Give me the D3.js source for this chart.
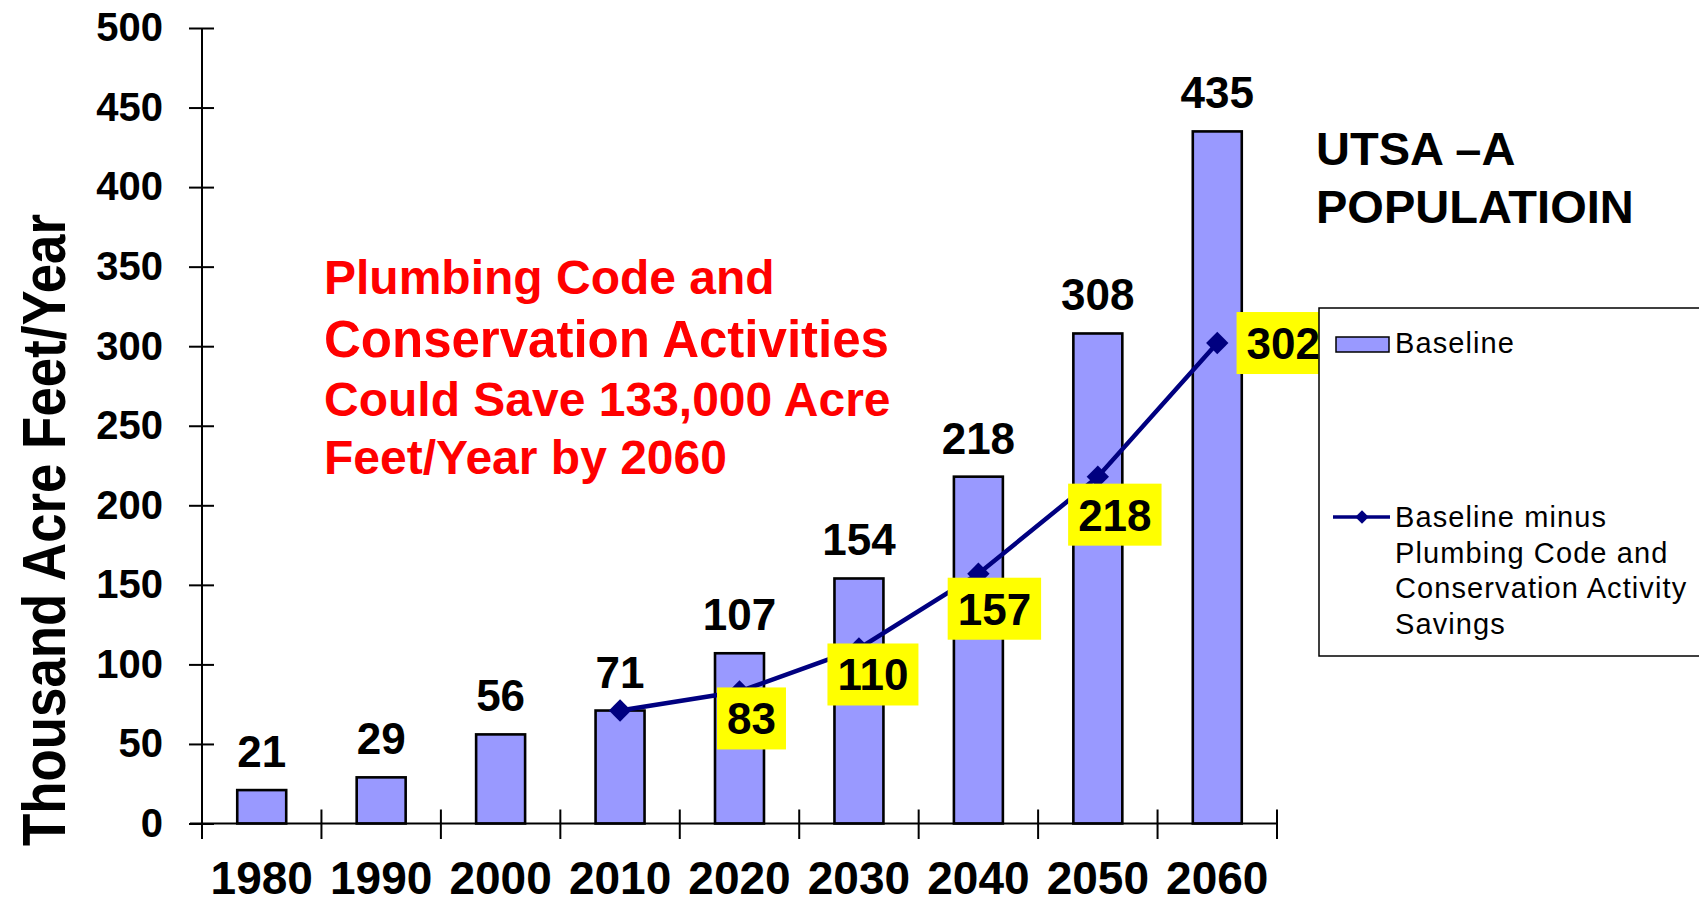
<!DOCTYPE html>
<html>
<head>
<meta charset="utf-8">
<script src="https://cdn.jsdelivr.net/npm/d3@7"></script>
<style>
  html, body { margin: 0; padding: 0; background: #fff; }
  svg { display: block; font-family: "Liberation Sans", Arial, Helvetica, sans-serif; }
</style>
</head>
<body>
<svg id="chart" width="1699" height="904"></svg>
<script>
// Decades on the category axis
const years = ['1980', '1990', '2000', '2010', '2020', '2030', '2040', '2050', '2060'];
// Baseline demand, thousand acre-feet per year
const baseline = [21, 29, 56, 71, 107, 154, 218, 308, 435];
// Demand after plumbing code and conservation savings
const savingsYears = ['2010', '2020', '2030', '2040', '2050', '2060'];
const afterSavings = [71, 83, 110, 157, 218, 302];
// Which points of the savings line carry a yellow callout
const calloutShown = [false, true, true, true, true, true];
// Callout centre offset from its point (px)
const calloutOffsets = [null, [12, 27], [14, 26], [16, 35], [17, 38], [66, 0]];
// Value axis ticks
const yTicks = [0, 50, 100, 150, 200, 250, 300, 350, 400, 450, 500];

const titleLines = ['UTSA \u2013A', 'POPULATIOIN'];
const noteLines = ['Plumbing Code and', 'Conservation Activities', 'Could Save 133,000 Acre', 'Feet/Year by 2060'];
const legendBars = 'Baseline';
const legendLine = ['Baseline minus', 'Plumbing Code and', 'Conservation Activity', 'Savings'];
const yTitle = 'Thousand Acre Feet/Year';

(function draw() {
  const svg = d3.select('#chart');
  const plotLeft = 202, plotRight = 1277, plotTop = 28, plotBottom = 823.5;

  const x = d3.scaleBand().domain(years).range([plotLeft, plotRight]).paddingInner(0.59).paddingOuter(0.295);
  const y = d3.scaleLinear().domain([0, 500]).range([plotBottom, plotTop]);
  const cx = d => x(d) + x.bandwidth() / 2;

  // Bars
  svg.append('g').selectAll('rect').data(years).join('rect')
    .attr('x', d => x(d))
    .attr('width', x.bandwidth())
    .attr('y', (d, i) => y(baseline[i]))
    .attr('height', (d, i) => y(0) - y(baseline[i]))
    .attr('fill', '#9999FF')
    .attr('stroke', '#000')
    .attr('stroke-width', 2.6);

  // Bar value labels
  svg.append('g').selectAll('text').data(years).join('text')
    .attr('x', d => cx(d))
    .attr('y', (d, i) => y(baseline[i]) - 23)
    .attr('text-anchor', 'middle')
    .attr('font-size', 44)
    .attr('font-weight', 'bold')
    .attr('fill', '#000')
    .text((d, i) => baseline[i]);

  // Y axis
  const yAxis = svg.append('g').attr('transform', `translate(${plotLeft},0)`)
    .call(d3.axisLeft(y).tickValues(yTicks).tickSize(13).tickPadding(26));
  yAxis.select('.domain').remove();
  yAxis.selectAll('.tick line').attr('stroke', '#000').attr('stroke-width', 2);
  yAxis.selectAll('.tick').append('line').attr('x1', 0).attr('x2', 12).attr('stroke', '#000').attr('stroke-width', 2);
  yAxis.selectAll('.tick text').attr('font-size', 40).attr('font-weight', 'bold').attr('fill', '#000')
    .attr('font-family', '"Liberation Sans", Arial, sans-serif');
  svg.append('line').attr('x1', plotLeft).attr('x2', plotLeft).attr('y1', y(500)).attr('y2', plotBottom + 15.5)
    .attr('stroke', '#000').attr('stroke-width', 2);

  // X axis
  svg.append('line').attr('x1', plotLeft - 12).attr('x2', plotRight).attr('y1', plotBottom).attr('y2', plotBottom)
    .attr('stroke', '#000').attr('stroke-width', 2);
  const bounds = d3.range(years.length + 1).map(i => x.range()[0] + i * x.step());
  svg.append('g').selectAll('line').data(bounds.slice(1)).join('line')
    .attr('x1', d => d).attr('x2', d => d)
    .attr('y1', plotBottom - 14).attr('y2', plotBottom + 15.5)
    .attr('stroke', '#000').attr('stroke-width', 2);
  const xAxis = svg.append('g').attr('transform', `translate(0,${plotBottom})`)
    .call(d3.axisBottom(x).tickSize(0).tickPadding(37.5));
  xAxis.select('.domain').remove();
  xAxis.selectAll('.tick text').attr('font-size', 46).attr('font-weight', 'bold').attr('fill', '#000')
    .attr('font-family', '"Liberation Sans", Arial, sans-serif');

  // Y axis title
  svg.append('text')
    .attr('transform', 'translate(65,530) rotate(-90)')
    .attr('text-anchor', 'middle')
    .attr('font-size', 62)
    .attr('font-weight', 'bold')
    .attr('textLength', 632)
    .attr('lengthAdjust', 'spacingAndGlyphs')
    .text(yTitle);

  // Savings line
  const pts = savingsYears.map((d, i) => [cx(d), y(afterSavings[i])]);
  svg.append('path')
    .attr('d', d3.line()(pts))
    .attr('fill', 'none')
    .attr('stroke', '#000080')
    .attr('stroke-width', 4.5);
  svg.append('g').selectAll('path').data(pts).join('path')
    .attr('transform', d => `translate(${d[0]},${d[1]}) rotate(45)`)
    .attr('d', d3.symbol(d3.symbolSquare, 250))
    .attr('fill', '#000080');

  // Yellow callouts
  const callouts = svg.append('g');
  pts.forEach((p, i) => {
    if (!calloutShown[i]) return;
    const [dx, dy] = calloutOffsets[i];
    const g = callouts.append('g').attr('transform', `translate(${p[0] + dx},${p[1] + dy})`);
    const rect = g.append('rect').attr('fill', '#FFFF00');
    const t = g.append('text')
      .attr('text-anchor', 'middle')
      .attr('y', 16)
      .attr('font-size', 44)
      .attr('font-weight', 'bold')
      .attr('fill', '#000')
      .text(afterSavings[i]);
    const w = t.node().getComputedTextLength() + 20;
    rect.attr('x', -w / 2).attr('y', -31).attr('width', w).attr('height', 62);
  });

  // Legend
  const lg = svg.append('g');
  lg.append('rect').attr('x', 1319).attr('y', 308).attr('width', 420).attr('height', 348)
    .attr('fill', '#fff').attr('stroke', '#000').attr('stroke-width', 1.5);
  lg.append('rect').attr('x', 1336).attr('y', 337).attr('width', 53).attr('height', 15)
    .attr('fill', '#9999FF').attr('stroke', '#000').attr('stroke-width', 1.5);
  lg.append('text').attr('x', 1395).attr('y', 353).attr('font-size', 29).attr('letter-spacing', 1.1)
    .text(legendBars);
  lg.append('line').attr('x1', 1333).attr('x2', 1390).attr('y1', 517).attr('y2', 517)
    .attr('stroke', '#000080').attr('stroke-width', 3.5);
  lg.append('path').attr('transform', 'translate(1362,517) rotate(45)')
    .attr('d', d3.symbol(d3.symbolSquare, 90)).attr('fill', '#000080');
  lg.append('g').selectAll('text').data(legendLine).join('text')
    .attr('x', 1395).attr('y', (d, i) => 527 + i * 35.5)
    .attr('font-size', 29).attr('letter-spacing', 1.1)
    .text(d => d);

  // Title
  svg.append('g').selectAll('text').data(titleLines).join('text')
    .attr('x', 1316).attr('y', (d, i) => 165 + i * 58)
    .attr('font-size', 47).attr('font-weight', 'bold').attr('fill', '#000')
    .text(d => d);

  // Red annotation
  const noteSizes = [48, 51, 48, 48];
  const noteBase = [294, 357, 416, 474];
  svg.append('g').selectAll('text').data(noteLines).join('text')
    .attr('x', 324).attr('y', (d, i) => noteBase[i])
    .attr('font-size', (d, i) => noteSizes[i]).attr('font-weight', 'bold').attr('fill', '#FF0000')
    .text(d => d);
})();
</script>
</body>
</html>
